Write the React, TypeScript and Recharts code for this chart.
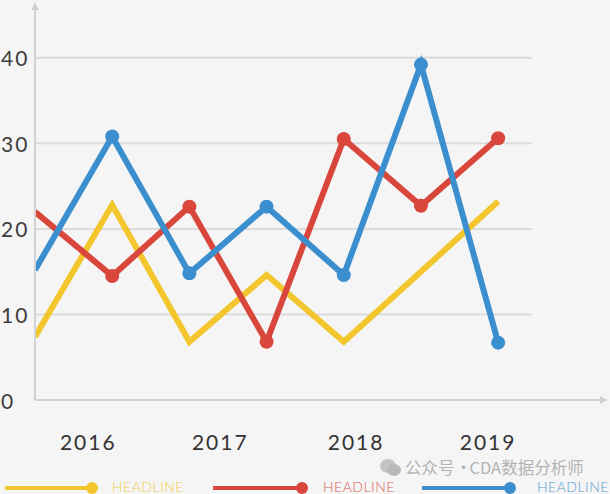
import React from 'react';
import { LineChart, Line, XAxis, YAxis, ReferenceLine, ReferenceDot } from 'recharts';

// x position of each point (0 sits on the y axis)
const steps = [0, 1, 2, 3, 4, 5, 6];
const redValues = [22, 14.5, 22.6, 6.8, 30.5, 22.7, 30.6];
const blueValues = [15.2, 30.8, 14.8, 22.6, 14.6, 39.2, 6.7];
const yellowValues = [7.4, 22.8, 6.8, 14.6, 6.8, null, 23.2];

const years = ['2016', '2017', '2018', '2019'];
const yearTicks = [0.69, 2.4, 4.16, 5.87];
const yTicks = [0, 10, 20, 30, 40];

const X_MAX = 7.41;
const GRID_END = 6.44;
const Y_MAX = 46.4;

const series = [
  { key: 'yellow', name: 'HEADLINE', color: '#f2c62c', dots: false },
  { key: 'red', name: 'HEADLINE', color: '#d9463b', dots: true },
  { key: 'blue', name: 'HEADLINE', color: '#3b8fce', dots: true },
];

const data = steps.map((i, n) => ({
  i,
  red: redValues[n],
  blue: blueValues[n],
  yellow: yellowValues[n],
}));

const FONT = 'Lato, "Open Sans", sans-serif';

const YTick = (props: any) => (
  <text x={1} y={props.y} dominantBaseline="central" textAnchor="start" fontFamily={FONT} fontSize={21} letterSpacing={2} fill="#3d3d3d">
    {props.payload.value}
  </text>
);

const XTick = (props: any) => (
  <text x={props.x} y={props.y + 41} dominantBaseline="central" textAnchor="middle" fontFamily={FONT} fontSize={21} letterSpacing={2} fill="#333">
    {years[yearTicks.indexOf(props.payload.value)]}
  </text>
);

const makeDot = (color: string) => (props: any) => {
  if (props.index === 0 || props.cy == null) return <g key={props.index} />;
  return <circle key={props.index} cx={props.cx} cy={props.cy} r={7} fill={color} />;
};

const ArrowRight = (props: any) => (
  <path d={`M${props.cx - 7},${props.cy - 4} L${props.cx},${props.cy} L${props.cx - 7},${props.cy + 4} Z`} fill="#cfcfcf" />
);
const ArrowUp = (props: any) => (
  <path d={`M${props.cx - 4},${props.cy + 7} L${props.cx},${props.cy} L${props.cx + 4},${props.cy + 7} Z`} fill="#cfcfcf" />
);

const legendPos = [
  { line: 5, dot: 92, text: 112 },
  { line: 213, dot: 302, text: 323 },
  { line: 422, dot: 510, text: 537 },
];

export default function App() {
  return (
    <div style={{ position: 'relative', width: 610, height: 494, background: '#f5f5f5', overflow: 'hidden' }}>
      <style>{'body{margin:0;background:#f5f5f5}'}</style>
      <LineChart width={610} height={494} data={data} margin={{ top: 3, right: 3, left: 0, bottom: 34 }}>
        {yTicks.filter((t) => t > 0).map((t) => (
          <ReferenceLine
            key={t}
            segment={[{ x: 0, y: t }, { x: GRID_END, y: t }]}
            stroke="#dcdcdc"
            strokeWidth={2}
            ifOverflow="visible"
          />
        ))}
        <XAxis
          dataKey="i"
          type="number"
          domain={[0, X_MAX]}
          allowDataOverflow
          ticks={yearTicks}
          interval={0}
          tick={<XTick />}
          tickLine={false}
          tickSize={0}
          tickMargin={0}
          height={60}
          axisLine={{ stroke: '#d2d2d2', strokeWidth: 2 }}
        />
        <YAxis
          type="number"
          domain={[0, Y_MAX]}
          ticks={yTicks}
          interval={0}
          width={35}
          tick={<YTick />}
          tickLine={false}
          axisLine={{ stroke: '#d2d2d2', strokeWidth: 2 }}
        />
        {series.map((s) => (
          <Line
            key={s.key}
            type="linear"
            dataKey={s.key}
            stroke={s.color}
            strokeWidth={6}
            connectNulls
            dot={s.dots ? makeDot(s.color) : false}
            activeDot={false}
            isAnimationActive={false}
          />
        ))}
        <ReferenceDot x={X_MAX} y={0} ifOverflow="visible" shape={ArrowRight} />
        <ReferenceDot x={0} y={Y_MAX} ifOverflow="visible" shape={ArrowUp} />
      </LineChart>

      {series.map((s, n) => (
        <React.Fragment key={s.key}>
          <svg style={{ position: 'absolute', left: 0, top: 480, overflow: 'visible' }} width={610} height={16}>
            <line x1={legendPos[n].line} y1={8} x2={legendPos[n].dot} y2={8} stroke={s.color} strokeWidth={4} />
            <circle cx={legendPos[n].dot} cy={8} r={6} fill={s.color} />
          </svg>
          <div
            style={{
              position: 'absolute',
              left: legendPos[n].text,
              top: 480,
              lineHeight: '14px',
              fontFamily: FONT,
              fontWeight: 300,
              fontSize: 14,
              letterSpacing: 0.5,
              color: s.color,
              opacity: 0.85,
            }}
          >
            {s.name}
          </div>
        </React.Fragment>
      ))}

      <svg style={{ position: 'absolute', left: 380, top: 458 }} width={22} height={20}>
        <ellipse cx={8} cy={8} rx={8} ry={7} fill="#c4c4c4" />
        <ellipse cx={14} cy={12} rx={7} ry={6} fill="#b8b8b8" />
      </svg>
      <div
        style={{
          position: 'absolute',
          left: 405,
          top: 458,
          lineHeight: '18px',
          fontFamily: '"Noto Sans CJK SC", sans-serif',
          fontSize: 16.5,
          color: '#b3b3b3',
        }}
      >
        公众号<span style={{ letterSpacing: -3 }}> · </span>CDA数据分析师
      </div>
    </div>
  );
}
